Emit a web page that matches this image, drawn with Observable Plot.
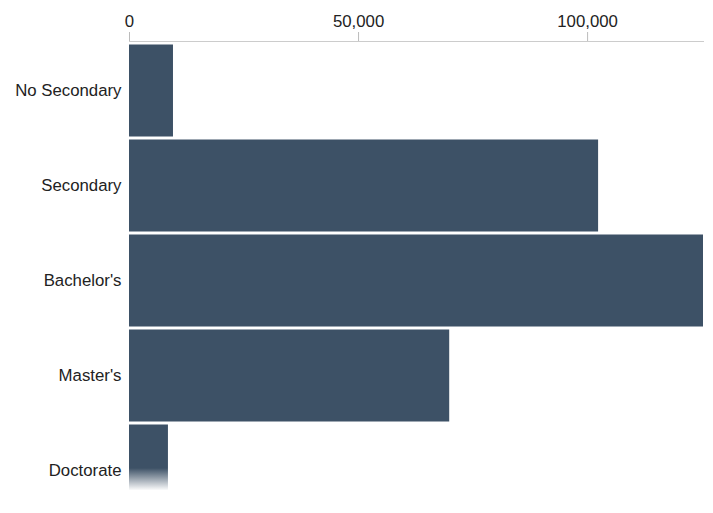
<!DOCTYPE html>
<html><head><meta charset="utf-8">
<script src="https://cdn.jsdelivr.net/npm/d3@7"></script>
<script src="https://cdn.jsdelivr.net/npm/@observablehq/plot@0.6"></script>
<style>
body{margin:0;background:#fff;}
#wrap{position:relative;width:713px;height:513px;overflow:hidden;}
#fade{position:absolute;left:126px;top:468px;width:587px;height:45px;z-index:2;background:linear-gradient(rgba(255,255,255,0), #fff 50%);}
</style>
</head><body><div id="wrap"></div>
<script>
const categories = ["No Secondary", "Secondary", "Bachelor's", "Master's", "Doctorate"];
const counts = [9600, 102400, 125300, 69900, 8500];
const xTicks = [0, 50000, 100000];
const data = categories.map((c, i) => ({category: c, count: counts[i]}));

const plot = Plot.plot({
  width: 713, height: 519, marginTop: 41, marginLeft: 129, marginRight: 10, marginBottom: 0,
  style: {fontFamily: "'Liberation Sans', Arial, sans-serif", fontSize: "16.8px", color: "#222", background: "#fff"},
  x: {domain: [0, d3.max(counts)], axis: "top", ticks: xTicks, tickFormat: d3.format(","), tickSize: 10, tickPadding: 5, label: null},
  y: {domain: categories, padding: 0, tickSize: 0, tickPadding: 8, label: null},
  marks: [
    Plot.barX(data, {x: "count", y: "category", fill: "#3d5166", insetTop: 1.5, insetBottom: 1.5}),
    Plot.frame({anchor: "top", stroke: "#ccc"})
  ]
});
d3.select(plot).selectAll('[aria-label="x-axis tick"]').attr("stroke", "#bbb");
const wrap = document.getElementById("wrap");
wrap.appendChild(plot);
const fade = document.createElement("div");
fade.id = "fade";
wrap.appendChild(fade);
</script>
</body></html>
